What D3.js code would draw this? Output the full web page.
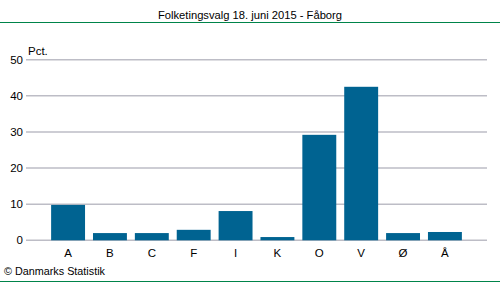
<!DOCTYPE html>
<html>
<head>
<meta charset="utf-8">
<title>Folketingsvalg Fåborg</title>
<style>
  body { margin: 0; background: #fff; }
  svg text { font-family: "Liberation Sans", Arial, sans-serif; font-size: 11.5px; fill: #000; }
  .grid line { stroke: #bdbdc6; stroke-width: 1.5px; }
</style>
</head>
<body>
<svg id="chart" width="500" height="282"></svg>
<script src="https://cdn.jsdelivr.net/npm/d3@7"></script>
<script>
var partier = ['A', 'B', 'C', 'F', 'I', 'K', 'O', 'V', 'Ø', 'Å'];
var procent = [9.8, 2.0, 2.0, 2.9, 8.1, 0.9, 29.2, 42.5, 2.0, 2.3];
var yTicks = [0, 10, 20, 30, 40, 50];

var svg = d3.select('#chart');
// plot area (note: "top" would clash with window.top)
var plotLeft = 26, plotRight = 487, plotTop = 59.7, plotBottom = 240.3;

var x = d3.scaleBand().domain(partier).range([plotLeft, plotRight])
    .paddingInner(0.19).paddingOuter(0.6);
var y = d3.scaleLinear().domain([0, 50]).range([plotBottom, plotTop]);

// title and green rules
svg.append('text').attr('x', 250).attr('y', 19).attr('text-anchor', 'middle')
    .style('font-size', '11.2px')
    .text('Folketingsvalg 18. juni 2015 - Fåborg');
svg.append('line').attr('x1', 0).attr('x2', 500).attr('y1', 22.5).attr('y2', 22.5)
    .attr('stroke', '#00844a').attr('stroke-width', 1);
svg.append('line').attr('x1', 0).attr('x2', 500).attr('y1', 281.5).attr('y2', 281.5)
    .attr('stroke', '#00844a').attr('stroke-width', 1);

// grid
svg.append('g').attr('class', 'grid')
    .selectAll('line').data(yTicks).enter().append('line')
    .attr('x1', plotLeft).attr('x2', plotRight)
    .attr('y1', function(d) { return y(d); })
    .attr('y2', function(d) { return y(d); });

// y labels
svg.append('g').selectAll('text').data(yTicks).enter().append('text')
    .attr('x', 23).attr('y', function(d) { return y(d) + 4; })
    .attr('text-anchor', 'end')
    .text(function(d) { return d; });
svg.append('text').attr('x', 28).attr('y', 55).text('Pct.');

// bars
svg.append('g').selectAll('rect').data(partier).enter().append('rect')
    .attr('x', function(d) { return x(d); })
    .attr('width', x.bandwidth())
    .attr('y', function(d, i) { return y(procent[i]); })
    .attr('height', function(d, i) { return y(0) - y(procent[i]); })
    .attr('fill', '#006391');

// x labels
svg.append('g').selectAll('text').data(partier).enter().append('text')
    .attr('x', function(d) { return x(d) + x.bandwidth() / 2; })
    .attr('y', 257).attr('text-anchor', 'middle')
    .text(function(d) { return d; });

svg.append('text').attr('x', 4).attr('y', 275).style('font-size', '10.8px')
    .text('© Danmarks Statistik');
</script>
</body>
</html>
